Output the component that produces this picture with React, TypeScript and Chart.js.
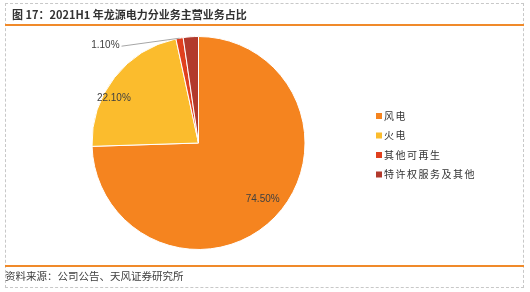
import React, { useEffect, useRef } from "react";
import { Chart, registerables } from "chart.js";

Chart.register(...registerables);

const categories = ["风电", "火电", "其他可再生", "特许权服务及其他"];
const shares = [74.5, 22.1, 1.1, 2.3];
const sliceColors = ["#F5841F", "#FBBC2D", "#E0401E", "#B23A2C"];
const showLabel = [true, true, true, false];
const outsideLabel = [false, false, true, false];
const titleText = "图 17：2021H1 年龙源电力分业务主营业务占比";
const sourceText = "资料来源：公司公告、天风证券研究所";

const W = 530;
const H = 292;

// label placement tweaks (fraction of radius, angle shift in degrees)
const labelRadius = [0.8, 0.9, 1, 0.8];
const labelAngleShift = [-3, -10, 0, 0];

const labelPlugin = {
  id: "sliceLabels",
  afterDatasetsDraw(chart: any) {
    const ctx = chart.ctx;
    const meta = chart.getDatasetMeta(0);
    ctx.save();
    ctx.font = "10px 'Liberation Sans', Arial, sans-serif";
    ctx.fillStyle = "#404040";
    ctx.textBaseline = "middle";
    meta.data.forEach((arc: any, i: number) => {
      if (!showLabel[i]) return;
      const p = arc.getProps(["x", "y", "startAngle", "endAngle", "outerRadius"], true);
      const mid = (p.startAngle + p.endAngle) / 2;
      const txt = shares[i].toFixed(2) + "%";
      if (outsideLabel[i]) {
        const ex = p.x + Math.cos(mid) * p.outerRadius;
        const ey = p.y + Math.sin(mid) * p.outerRadius;
        const lx = ex - 58;
        const ly = ey + 8;
        ctx.strokeStyle = "#A6A6A6";
        ctx.lineWidth = 1;
        ctx.beginPath();
        ctx.moveTo(ex, ey);
        ctx.lineTo(lx, ly);
        ctx.stroke();
        ctx.textAlign = "right";
        ctx.fillText(txt, lx - 2, ly - 1);
      } else {
        const a = mid + (labelAngleShift[i] * Math.PI) / 180;
        const r = p.outerRadius * labelRadius[i];
        ctx.textAlign = "center";
        ctx.fillText(txt, p.x + Math.cos(a) * r, p.y + Math.sin(a) * r);
      }
    });
    // legend
    const lx = 376;
    const ly0 = 116;
    const step = 19.5;
    ctx.font = "10px 'Noto Sans CJK SC', sans-serif";
    (ctx as any).letterSpacing = "1.5px";
    ctx.textAlign = "left";
    categories.forEach((c, i) => {
      const y = ly0 + i * step;
      ctx.fillStyle = sliceColors[i];
      ctx.fillRect(lx, y - 3, 6, 6);
      ctx.fillStyle = "#333333";
      ctx.fillText(c, lx + 8, y);
    });
    ctx.restore();
  },
};

export default function App() {
  const ref = useRef<HTMLCanvasElement | null>(null);
  useEffect(() => {
    if (!ref.current) return;
    const chart = new Chart(ref.current, {
      type: "pie",
      data: {
        labels: categories,
        datasets: [
          {
            data: shares,
            backgroundColor: sliceColors,
            borderColor: "#ffffff",
            borderWidth: 1,
          },
        ],
      },
      options: {
        responsive: false,
        animation: false,
        layout: { padding: { left: 91.5, right: 224.5, top: 36, bottom: 42 } },
        plugins: {
          legend: { display: false },
          tooltip: { enabled: false },
        },
      },
      plugins: [labelPlugin],
    });
    return () => chart.destroy();
  }, []);

  return (
    <div
      style={{
        position: "absolute",
        left: 0,
        top: 0,
        width: W,
        height: H,
        background: "#fff",
        overflow: "hidden",
      }}
    >
      <canvas ref={ref} width={W} height={H} style={{ position: "absolute", left: 0, top: 0 }} />
      <div
        style={{
          position: "absolute",
          left: 5,
          top: 3,
          width: 519,
          height: 285,
          border: "1px dashed #C8C8C8",
          boxSizing: "border-box",
          pointerEvents: "none",
        }}
      />
      <div
        style={{
          position: "absolute",
          left: 12,
          top: 6,
          fontFamily: "'Noto Sans CJK SC', sans-serif",
          fontWeight: "bold",
          fontSize: 11,
          color: "#333333",
          lineHeight: "16px",
          whiteSpace: "nowrap",
        }}
      >
        {titleText}
      </div>
      <div style={{ position: "absolute", left: 5, top: 24, width: 519, height: 2, background: "#F08A2A" }} />
      <div style={{ position: "absolute", left: 5, top: 265, width: 519, height: 2, background: "#F08A2A" }} />
      <div
        style={{
          position: "absolute",
          left: 5,
          top: 268,
          fontFamily: "'Noto Sans CJK SC', sans-serif",
          fontSize: 10.5,
          color: "#404040",
          lineHeight: "16px",
          whiteSpace: "nowrap",
        }}
      >
        {sourceText}
      </div>
    </div>
  );
}
